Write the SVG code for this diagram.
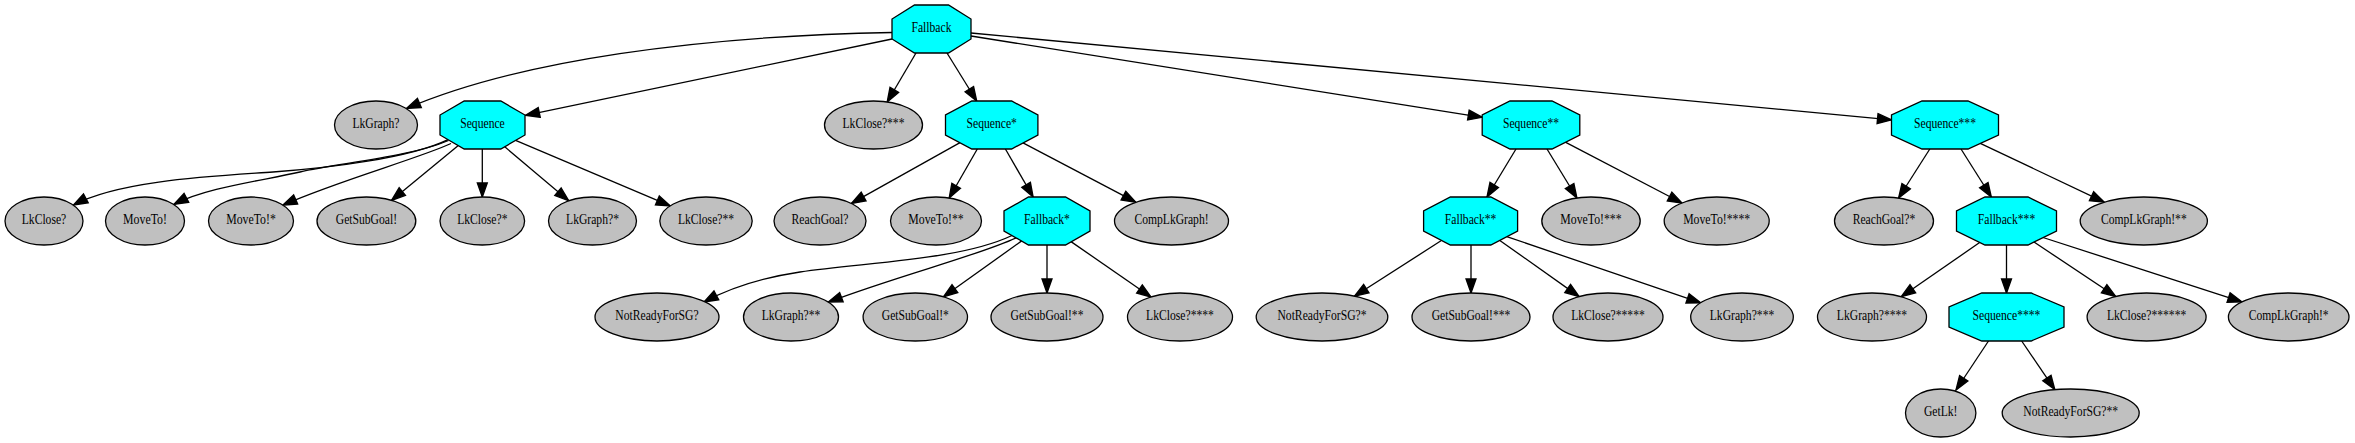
<svg xmlns="http://www.w3.org/2000/svg" width="2355" height="443" viewBox="0 0 2355 443">
<style>
.oct{fill:#00ffff;stroke:#000;stroke-width:1.3}
.ell{fill:#c0c0c0;stroke:#000;stroke-width:1.3}
text{font-family:"Liberation Serif","Times New Roman",serif;font-size:14px;text-anchor:middle;fill:#000}
.e{fill:none;stroke:#000;stroke-width:1.3;marker-end:url(#arr)}
</style>
<defs>
<marker id="arr" markerUnits="userSpaceOnUse" markerWidth="14" markerHeight="10" viewBox="0 0 13.3 9.4" refX="13.3" refY="4.7" orient="auto" overflow="visible">
<path d="M0,0 L13.3,4.7 L0,9.4 Z" fill="#000" stroke="#000" stroke-width="1.3"/>
</marker>
</defs>
<rect width="2355" height="443" fill="#fff"/>
<g id="edges">
<path class="e" d="M892,32.5 C700,36 520,60 406.5,108.5"/>
<path class="e" d="M892,39 L525.5,115.3"/>
<path class="e" d="M916,53 L887.2,102"/>
<path class="e" d="M947,53 L976.7,101"/>
<path class="e" d="M971,36 L1482.2,117.3"/>
<path class="e" d="M971,33 L1891.5,119.9"/>
<path class="e" d="M448,139.6 C410,158 330,168 273,172 C216,176 120,180 73.5,205"/>
<path class="e" d="M448.5,140.5 C410,157 340,163 300,172 C260,181 205,188 174,204.4"/>
<path class="e" d="M451,143.5 C420,158 340,180 282.8,205.1"/>
<path class="e" d="M458.3,145.4 L391.5,200.4"/>
<path class="e" d="M482.3,149 L482.3,197"/>
<path class="e" d="M504.5,146.6 L568.7,200.8"/>
<path class="e" d="M515.6,140.4 L670.3,205.9"/>
<path class="e" d="M960,142.6 L851.4,203.4"/>
<path class="e" d="M977.3,149 L949.2,198"/>
<path class="e" d="M1005.4,149 L1033.1,197"/>
<path class="e" d="M1023,142.9 L1135.8,202.2"/>
<path class="e" d="M1516,149 L1487,197"/>
<path class="e" d="M1547,149 L1576.9,198"/>
<path class="e" d="M1565.3,142.2 L1682,203"/>
<path class="e" d="M1929.8,149 L1898.6,198"/>
<path class="e" d="M1961,149 L1991.3,197"/>
<path class="e" d="M1980.3,143.3 L2104.2,202.2"/>
<path class="e" d="M1012,235.5 C960,260 870,262 800,272 C760,278 730,288 704,302"/>
<path class="e" d="M1016,237.8 C980,255 900,275 828.3,302.1"/>
<path class="e" d="M1021.7,240.9 L943.5,296.8"/>
<path class="e" d="M1047,245 L1047,293"/>
<path class="e" d="M1071,241.6 L1151,297"/>
<path class="e" d="M1441,240.8 L1354.5,296.2"/>
<path class="e" d="M1471,245 L1471,293"/>
<path class="e" d="M1499.5,240.2 L1579.1,296.6"/>
<path class="e" d="M1506.8,236.6 L1700.8,302.9"/>
<path class="e" d="M1980,242.3 L1901.3,296.7"/>
<path class="e" d="M2006.5,245 L2006.5,293"/>
<path class="e" d="M2034,242 L2115.8,296.5"/>
<path class="e" d="M2043,237.5 L2241.9,301.8"/>
<path class="e" d="M1988.5,341 L1956,390"/>
<path class="e" d="M2021.7,341 L2054.8,389.6"/>
</g>
<g id="fallback"><polygon class="oct" points="914.5,5 948.5,5 971,19 971,39 948.5,53 914.5,53 892,39 892,19"/><text x="931.5" y="32" textLength="40" lengthAdjust="spacingAndGlyphs">Fallback</text></g>
<g id="lkgraph"><ellipse class="ell" cx="376" cy="125" rx="41.5" ry="24"/><text x="376" y="128" textLength="47.1" lengthAdjust="spacingAndGlyphs">LkGraph?</text></g>
<g id="sequence"><polygon class="oct" points="464.2,101 500.8,101 525,115 525,135 500.8,149 464.2,149 440,135 440,115"/><text x="482.5" y="128" textLength="44.5" lengthAdjust="spacingAndGlyphs">Sequence</text></g>
<g id="lkclose3"><ellipse class="ell" cx="873.5" cy="125" rx="49" ry="24"/><text x="873.5" y="128" textLength="62" lengthAdjust="spacingAndGlyphs">LkClose?***</text></g>
<g id="sequence1"><polygon class="oct" points="971.8,101 1011.6,101 1037.9,115 1037.9,135 1011.6,149 971.8,149 945.5,135 945.5,115"/><text x="991.7" y="128" textLength="50.3" lengthAdjust="spacingAndGlyphs">Sequence*</text></g>
<g id="sequence2"><polygon class="oct" points="1510,101 1552,101 1579.8,115 1579.8,135 1552,149 1510,149 1482.2,135 1482.2,115"/><text x="1531" y="128" textLength="56.1" lengthAdjust="spacingAndGlyphs">Sequence**</text></g>
<g id="sequence3"><polygon class="oct" points="1922,101 1968,101 1998.5,115 1998.5,135 1968,149 1922,149 1891.5,135 1891.5,115"/><text x="1945" y="128" textLength="62" lengthAdjust="spacingAndGlyphs">Sequence***</text></g>
<g id="lkclose0"><ellipse class="ell" cx="44" cy="221" rx="39" ry="24"/><text x="44" y="224" textLength="44.5" lengthAdjust="spacingAndGlyphs">LkClose?</text></g>
<g id="moveto0"><ellipse class="ell" cx="145" cy="221" rx="39.5" ry="24"/><text x="145" y="224" textLength="43.9" lengthAdjust="spacingAndGlyphs">MoveTo!</text></g>
<g id="moveto1"><ellipse class="ell" cx="251" cy="221" rx="42.5" ry="24"/><text x="251" y="224" textLength="49.7" lengthAdjust="spacingAndGlyphs">MoveTo!*</text></g>
<g id="getsubgoal0"><ellipse class="ell" cx="366.4" cy="221" rx="49.4" ry="24"/><text x="366.4" y="224" textLength="61.3" lengthAdjust="spacingAndGlyphs">GetSubGoal!</text></g>
<g id="lkclose1"><ellipse class="ell" cx="482.3" cy="221" rx="42.3" ry="24"/><text x="482.3" y="224" textLength="50.3" lengthAdjust="spacingAndGlyphs">LkClose?*</text></g>
<g id="lkgraph1"><ellipse class="ell" cx="592.5" cy="221" rx="44" ry="24"/><text x="592.5" y="224" textLength="52.9" lengthAdjust="spacingAndGlyphs">LkGraph?*</text></g>
<g id="lkclose2"><ellipse class="ell" cx="706" cy="221" rx="46.2" ry="24"/><text x="706" y="224" textLength="56.2" lengthAdjust="spacingAndGlyphs">LkClose?**</text></g>
<g id="reachgoal0"><ellipse class="ell" cx="820" cy="221" rx="46" ry="24"/><text x="820" y="224" textLength="56.8" lengthAdjust="spacingAndGlyphs">ReachGoal?</text></g>
<g id="moveto2"><ellipse class="ell" cx="936" cy="221" rx="45.5" ry="24"/><text x="936" y="224" textLength="55.5" lengthAdjust="spacingAndGlyphs">MoveTo!**</text></g>
<g id="fallback1"><polygon class="oct" points="1028.5,197 1065.5,197 1090,211 1090,231 1065.5,245 1028.5,245 1004,231 1004,211"/><text x="1047" y="224" textLength="45.8" lengthAdjust="spacingAndGlyphs">Fallback*</text></g>
<g id="complkgraph0"><ellipse class="ell" cx="1171.5" cy="221" rx="57" ry="24"/><text x="1171.5" y="224" textLength="74.2" lengthAdjust="spacingAndGlyphs">CompLkGraph!</text></g>
<g id="fallback2"><polygon class="oct" points="1450.4,197 1490.8,197 1517.6,211 1517.6,231 1490.8,245 1450.4,245 1423.6,231 1423.6,211"/><text x="1470.6" y="224" textLength="51.6" lengthAdjust="spacingAndGlyphs">Fallback**</text></g>
<g id="moveto3"><ellipse class="ell" cx="1591" cy="221" rx="49.2" ry="24"/><text x="1591" y="224" textLength="61.3" lengthAdjust="spacingAndGlyphs">MoveTo!***</text></g>
<g id="moveto4"><ellipse class="ell" cx="1716.7" cy="221" rx="52.5" ry="24"/><text x="1716.7" y="224" textLength="67.1" lengthAdjust="spacingAndGlyphs">MoveTo!****</text></g>
<g id="reachgoal1"><ellipse class="ell" cx="1884" cy="221" rx="49.5" ry="24"/><text x="1884" y="224" textLength="62.6" lengthAdjust="spacingAndGlyphs">ReachGoal?*</text></g>
<g id="fallback3"><polygon class="oct" points="1985,197 2028,197 2056.5,211 2056.5,231 2028,245 1985,245 1956.5,231 1956.5,211"/><text x="2006.5" y="224" textLength="57.4" lengthAdjust="spacingAndGlyphs">Fallback***</text></g>
<g id="complkgraph2"><ellipse class="ell" cx="2143.8" cy="221" rx="63.6" ry="24"/><text x="2143.8" y="224" textLength="85.8" lengthAdjust="spacingAndGlyphs">CompLkGraph!**</text></g>
<g id="notready0"><ellipse class="ell" cx="657" cy="317" rx="62" ry="24"/><text x="657" y="320" textLength="83.3" lengthAdjust="spacingAndGlyphs">NotReadyForSG?</text></g>
<g id="lkgraph2"><ellipse class="ell" cx="791" cy="317" rx="47.5" ry="24"/><text x="791" y="320" textLength="58.7" lengthAdjust="spacingAndGlyphs">LkGraph?**</text></g>
<g id="getsubgoal1"><ellipse class="ell" cx="915.3" cy="317" rx="52.2" ry="24"/><text x="915.3" y="320" textLength="67.1" lengthAdjust="spacingAndGlyphs">GetSubGoal!*</text></g>
<g id="getsubgoal2"><ellipse class="ell" cx="1047" cy="317" rx="56" ry="24"/><text x="1047" y="320" textLength="72.9" lengthAdjust="spacingAndGlyphs">GetSubGoal!**</text></g>
<g id="lkclose4"><ellipse class="ell" cx="1180" cy="317" rx="52.5" ry="24"/><text x="1180" y="320" textLength="67.8" lengthAdjust="spacingAndGlyphs">LkClose?****</text></g>
<g id="notready1"><ellipse class="ell" cx="1322" cy="317" rx="65.8" ry="24"/><text x="1322" y="320" textLength="89.1" lengthAdjust="spacingAndGlyphs">NotReadyForSG?*</text></g>
<g id="getsubgoal3"><ellipse class="ell" cx="1471" cy="317" rx="59" ry="24"/><text x="1471" y="320" textLength="78.7" lengthAdjust="spacingAndGlyphs">GetSubGoal!***</text></g>
<g id="lkclose5"><ellipse class="ell" cx="1608" cy="317" rx="55" ry="24"/><text x="1608" y="320" textLength="73.6" lengthAdjust="spacingAndGlyphs">LkClose?*****</text></g>
<g id="lkgraph3"><ellipse class="ell" cx="1742" cy="317" rx="51.3" ry="24"/><text x="1742" y="320" textLength="64.5" lengthAdjust="spacingAndGlyphs">LkGraph?***</text></g>
<g id="lkgraph4"><ellipse class="ell" cx="1872" cy="317" rx="54.5" ry="24"/><text x="1872" y="320" textLength="70.3" lengthAdjust="spacingAndGlyphs">LkGraph?****</text></g>
<g id="sequence4"><polygon class="oct" points="1981.8,293 2031.2,293 2064,307 2064,327 2031.2,341 1981.8,341 1949,327 1949,307"/><text x="2006.5" y="320" textLength="67.8" lengthAdjust="spacingAndGlyphs">Sequence****</text></g>
<g id="lkclose6"><ellipse class="ell" cx="2146.6" cy="317" rx="59.5" ry="24"/><text x="2146.6" y="320" textLength="79.4" lengthAdjust="spacingAndGlyphs">LkClose?******</text></g>
<g id="complkgraph1"><ellipse class="ell" cx="2288.7" cy="317" rx="60.3" ry="24"/><text x="2288.7" y="320" textLength="80" lengthAdjust="spacingAndGlyphs">CompLkGraph!*</text></g>
<g id="getlk"><ellipse class="ell" cx="1940.7" cy="413" rx="35.2" ry="24"/><text x="1940.7" y="416" textLength="33.6" lengthAdjust="spacingAndGlyphs">GetLk!</text></g>
<g id="notready2"><ellipse class="ell" cx="2070.7" cy="413" rx="68.5" ry="24"/><text x="2070.7" y="416" textLength="94.9" lengthAdjust="spacingAndGlyphs">NotReadyForSG?**</text></g>
</svg>
